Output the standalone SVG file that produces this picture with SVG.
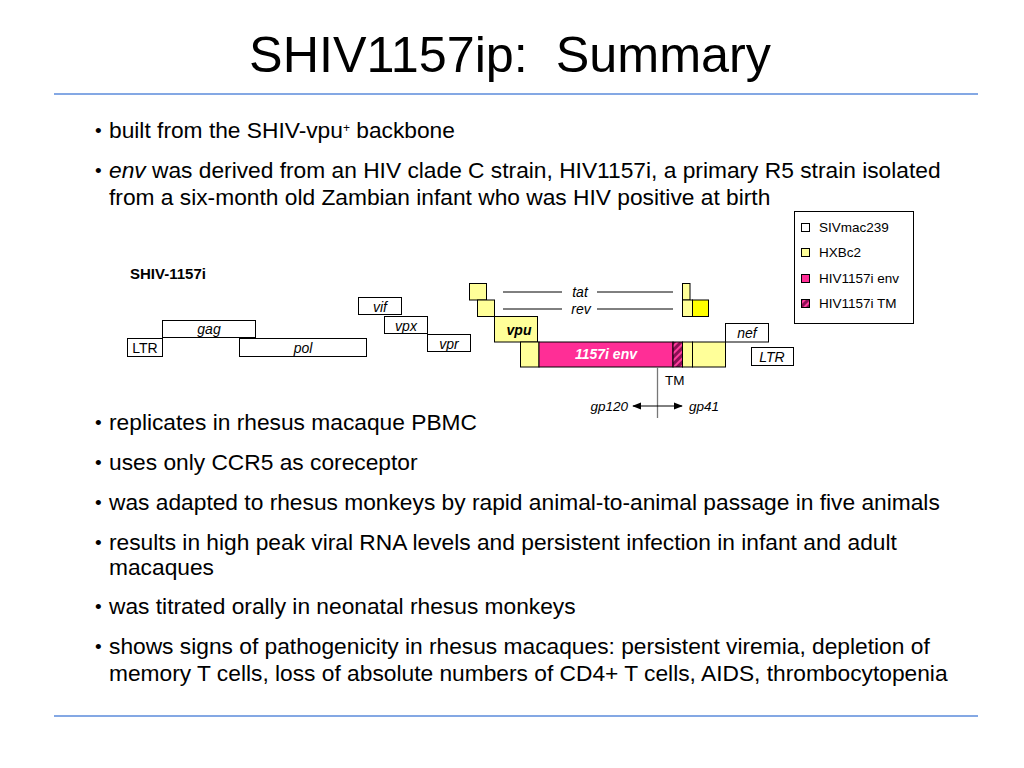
<svg xmlns="http://www.w3.org/2000/svg" width="1024" height="768" viewBox="0 0 1024 768">
<defs>
<style>
.t{font-family:"Liberation Sans",Arial,sans-serif;fill:#000}
.b{font-size:22.75px}
.bul{font-size:19px}
.lbl{font-size:14px;font-style:italic;text-anchor:middle}
.box{stroke:#000;stroke-width:1}
.w{fill:#fff}
.py{fill:#ffff99}
.by{fill:#ffff00}
.pk{fill:#ff2e96}
.leg{font-size:13.5px}
.rule{stroke:#5b8bdb;stroke-width:1.5}
.conn{stroke:#000;stroke-width:1;fill:none}
</style>
<pattern id="hatch" patternUnits="userSpaceOnUse" width="5" height="5" patternTransform="rotate(45)">
<rect width="5" height="5" fill="#8c0f55"/>
<rect width="2" height="5" fill="#ff3c9c"/>
</pattern>
<marker id="ah" viewBox="0 0 10 10" refX="9" refY="5" markerWidth="9" markerHeight="9" orient="auto-start-reverse" markerUnits="userSpaceOnUse">
<path d="M0,1 L10,5 L0,9 z" fill="#000"/>
</marker>
</defs>
<rect width="1024" height="768" fill="#fff"/>

<g id="title">
<text class="t" x="510" y="72" font-size="50.3" text-anchor="middle" xml:space="preserve">SHIV1157ip:  Summary</text>
</g>
<line class="rule" x1="54" y1="94" x2="978" y2="94"/>
<line class="rule" x1="54" y1="716" x2="978" y2="716"/>

<g id="bullets">
<text class="t bul" x="95" y="137">•</text>
<text class="t b" x="109" y="138">built from the SHIV-vpu<tspan font-size="12" dy="-6">+</tspan><tspan dy="6"> backbone</tspan></text>
<text class="t bul" x="95" y="177">•</text>
<text class="t b" x="109" y="178"><tspan font-style="italic">env</tspan> was derived from an HIV clade C strain, HIV1157i, a primary R5 strain isolated</text>
<text class="t b" x="109" y="205">from a six-month old Zambian infant who was HIV positive at birth</text>
<text class="t bul" x="95" y="429">•</text>
<text class="t b" x="109" y="430">replicates in rhesus macaque PBMC</text>
<text class="t bul" x="95" y="469">•</text>
<text class="t b" x="109" y="470">uses only CCR5 as coreceptor</text>
<text class="t bul" x="95" y="509">•</text>
<text class="t b" x="109" y="510">was adapted to rhesus monkeys by rapid animal-to-animal passage in five animals</text>
<text class="t bul" x="95" y="549">•</text>
<text class="t b" x="109" y="550">results in high peak viral RNA levels and persistent infection in infant and adult</text>
<text class="t b" x="109" y="575">macaques</text>
<text class="t bul" x="95" y="613">•</text>
<text class="t b" x="109" y="614">was titrated orally in neonatal rhesus monkeys</text>
<text class="t bul" x="95" y="653">•</text>
<text class="t b" x="109" y="654">shows signs of pathogenicity in rhesus macaques: persistent viremia, depletion of</text>
<text class="t b" x="109" y="681">memory T cells, loss of absolute numbers of CD4+ T cells, AIDS, thrombocytopenia</text>
</g>

<g id="genome-label">
<text class="t" x="130" y="279" font-size="15" font-weight="bold">SHIV-1157i</text>
</g>

<g id="ltr5"><rect class="box w" x="127.5" y="338.5" width="35" height="18"/><text class="t" x="145" y="353" font-size="14" text-anchor="middle">LTR</text></g>
<g id="gag"><rect class="box w" x="162.5" y="320.5" width="93" height="17"/><text class="t lbl" x="209" y="334">gag</text></g>
<g id="pol"><rect class="box w" x="239.5" y="338.5" width="127" height="18"/><text class="t lbl" x="303" y="353">pol</text></g>
<g id="vif"><rect class="box w" x="358.5" y="297.5" width="43" height="17"/><text class="t lbl" x="380" y="312">vif</text></g>
<g id="vpx"><rect class="box w" x="384.5" y="316.5" width="43" height="17"/><text class="t lbl" x="406" y="331">vpx</text></g>
<g id="vpr"><rect class="box w" x="427.5" y="334.5" width="43" height="17"/><text class="t lbl" x="449" y="349">vpr</text></g>

<g id="tat-exon1"><rect class="box py" x="469.5" y="283.5" width="17" height="16.5"/></g>
<g id="rev-exon1"><rect class="box py" x="477.5" y="300" width="17" height="16.5"/></g>
<g id="vpu"><rect class="box py" x="494.5" y="316.5" width="43" height="25.5"/><text class="t" x="519" y="335" font-size="14" font-weight="bold" font-style="italic" text-anchor="middle">vpu</text></g>
<g id="env-5"><rect class="box py" x="520.5" y="342" width="18.5" height="25"/></g>
<g id="env"><rect class="box pk" x="539" y="342" width="134" height="25"/><text x="606" y="359" font-family="Liberation Sans, Arial, sans-serif" font-size="14" font-weight="bold" font-style="italic" fill="#fff" text-anchor="middle">1157i env</text></g>
<g id="tm"><rect class="box" x="673" y="342" width="9.5" height="25" fill="url(#hatch)"/></g>
<g id="env-3a"><rect class="box py" x="682.5" y="342" width="10" height="25"/></g>
<g id="env-3b"><rect class="box py" x="692.5" y="342" width="33" height="25"/></g>
<g id="tat-exon2"><rect class="box py" x="682.5" y="283.5" width="7.5" height="16.5"/></g>
<g id="rev-exon2a"><rect class="box py" x="682.5" y="300" width="10" height="16.5"/></g>
<g id="rev-exon2b"><rect class="box by" x="692.5" y="300" width="16" height="16.5"/></g>
<g id="nef"><rect class="box w" x="725.5" y="323.5" width="43" height="18.5"/><text class="t lbl" x="747" y="338">nef</text></g>
<g id="ltr3"><rect class="box w" x="751.5" y="347.5" width="42" height="18"/><text class="t lbl" x="772" y="362">LTR</text></g>

<g id="connectors">
<line class="conn" x1="503" y1="292" x2="562" y2="292"/>
<line class="conn" x1="597" y1="292" x2="673" y2="292"/>
<line class="conn" x1="503" y1="309" x2="562" y2="309"/>
<line class="conn" x1="597" y1="309" x2="673" y2="309"/>
<line x1="657.5" y1="367" x2="657.5" y2="418" stroke="#777" stroke-width="1.3"/>
<line class="conn" x1="633" y1="406" x2="682" y2="406" marker-start="url(#ah)" marker-end="url(#ah)"/>
</g>
<g id="conn-labels">
<text class="t lbl" x="580" y="297">tat</text>
<text class="t lbl" x="581" y="314">rev</text>
<text class="t" x="665" y="385" font-size="13.5">TM</text>
<text class="t" x="628" y="411" font-size="13.5" font-style="italic" text-anchor="end">gp120</text>
<text class="t" x="689" y="411" font-size="13.5" font-style="italic">gp41</text>
</g>

<g id="legend">
<rect x="794.5" y="211.5" width="119" height="112" fill="#fff" stroke="#000" stroke-width="1"/>
<rect class="box w" x="801.5" y="223.5" width="8" height="8"/>
<text class="t leg" x="819" y="232">SIVmac239</text>
<rect class="box py" x="801.5" y="248.5" width="8" height="8"/>
<text class="t leg" x="819" y="257">HXBc2</text>
<rect class="box pk" x="801.5" y="274.5" width="8" height="8"/>
<text class="t leg" x="819" y="283">HIV1157i env</text>
<rect class="box" x="801.5" y="299.5" width="8" height="8" fill="url(#hatch)"/>
<text class="t leg" x="819" y="308">HIV1157i TM</text>
</g>
</svg>
